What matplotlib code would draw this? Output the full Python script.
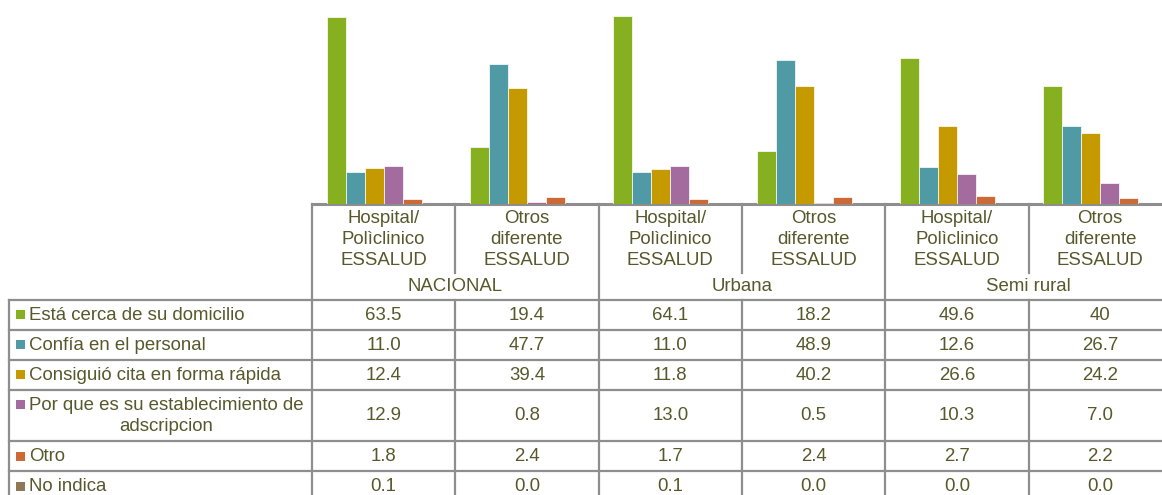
import matplotlib
matplotlib.use("Agg")
import matplotlib.pyplot as plt
from matplotlib.patches import Rectangle
import numpy as np

plt.rcParams["font.family"] = ["Liberation Sans", "DejaVu Sans"]

# --- data (valores como aparecen en la tabla) ---
zonas = ["NACIONAL", "Urbana", "Semi rural"]
tipos = ["Hospital/\nPolìclinico\nESSALUD", "Otros\ndiferente\nESSALUD"]
motivos = [
    "Está cerca de su domicilio",
    "Confía en el personal",
    "Consiguió cita en forma rápida",
    "Por que es su establecimiento de\nadscripcion",
    "Otro",
    "No indica",
]
cerca = ["63.5", "19.4", "64.1", "18.2", "49.6", "40"]
confia = ["11.0", "47.7", "11.0", "48.9", "12.6", "26.7"]
cita = ["12.4", "39.4", "11.8", "40.2", "26.6", "24.2"]
adscripcion = ["12.9", "0.8", "13.0", "0.5", "10.3", "7.0"]
otro = ["1.8", "2.4", "1.7", "2.4", "2.7", "2.2"]
no_indica = ["0.1", "0.0", "0.1", "0.0", "0.0", "0.0"]
series = [cerca, confia, cita, adscripcion, otro, no_indica]

colores = ["#86b020", "#4f9aa4", "#c49a00", "#a36b9e", "#cc6a37", "#8f7656"]
txt_col = "#58582c"
line_col = "#8e8e8e"

W, H = 1162, 495
fig = plt.figure(figsize=(W / 100, H / 100), dpi=100)

# geometria de la tabla (pixeles)
col0 = 312.0
colw = 143.3
tab_left = 8.5
base_y = 204.0
cat_bot = 273.0
head_bot = 300.0
row_h = [29.5, 30, 30, 51.5, 30, 30]
n_cols = len(zonas) * len(tipos)

# --- barras ---
ax = fig.add_axes([col0 / W, (H - base_y) / H, n_cols * colw / W, base_y / H])
x = np.arange(n_cols)
bw = 19 / colw
for i, (s, c) in enumerate(zip(series, colores)):
    vals = [float(v) for v in s]
    ax.bar(x + (i - 2.5) * bw, vals, width=bw, color=c,
           edgecolor="white", linewidth=0.5)
ax.set_xlim(-0.5, n_cols - 0.5)
ax.set_ylim(0, 69.4)
ax.axis("off")

# --- tabla ---
tab = fig.add_axes([0, 0, 1, 1], zorder=-1)
tab.set_xlim(0, W)
tab.set_ylim(H, 0)
tab.axis("off")

right = col0 + n_cols * colw + 5
bounds = head_bot + np.concatenate([[0], np.cumsum(row_h)])
lw = 1.6

tab.plot([col0, right], [base_y, base_y], color=line_col, lw=2.2)
for yb in bounds:
    tab.plot([tab_left, right], [yb, yb], color=line_col, lw=lw)
tab.plot([tab_left, tab_left], [head_bot, bounds[-1]], color=line_col, lw=lw)
for k in range(n_cols + 1):
    xc = col0 + k * colw
    if k % 2 == 0:
        tab.plot([xc, xc], [base_y, bounds[-1]], color=line_col, lw=lw)
    else:
        tab.plot([xc, xc], [base_y, cat_bot], color=line_col, lw=lw)
        tab.plot([xc, xc], [head_bot, bounds[-1]], color=line_col, lw=lw)

fs = 13.4
ls = 1.34
for k in range(n_cols):
    xc = col0 + (k + 0.5) * colw
    tab.text(xc, 239.5, tipos[k % 2], ha="center", va="center",
             fontsize=fs, color=txt_col, linespacing=ls)
for g, z in enumerate(zonas):
    xc = col0 + (g + 0.5) * 2 * colw
    tab.text(xc, 286.5, z, ha="center", va="center", fontsize=fs, color=txt_col)

for r, (m, s, c) in enumerate(zip(motivos, series, colores)):
    y0, y1 = bounds[r], bounds[r + 1]
    yc = (y0 + y1) / 2
    first = yc if "\n" not in m else y0 + 14.5
    tab.add_patch(Rectangle((16, first - 4.5), 9, 9, color=c, lw=0))
    tab.text(29, yc + 0.5, m, ha="left", va="center", multialignment="center",
             fontsize=fs, color=txt_col, linespacing=ls)
    for k, v in enumerate(s):
        tab.text(col0 + (k + 0.5) * colw, yc + 0.5, v, ha="center", va="center",
                 fontsize=fs, color=txt_col)

fig.savefig("out.png", dpi=100)
plt.close(fig)
